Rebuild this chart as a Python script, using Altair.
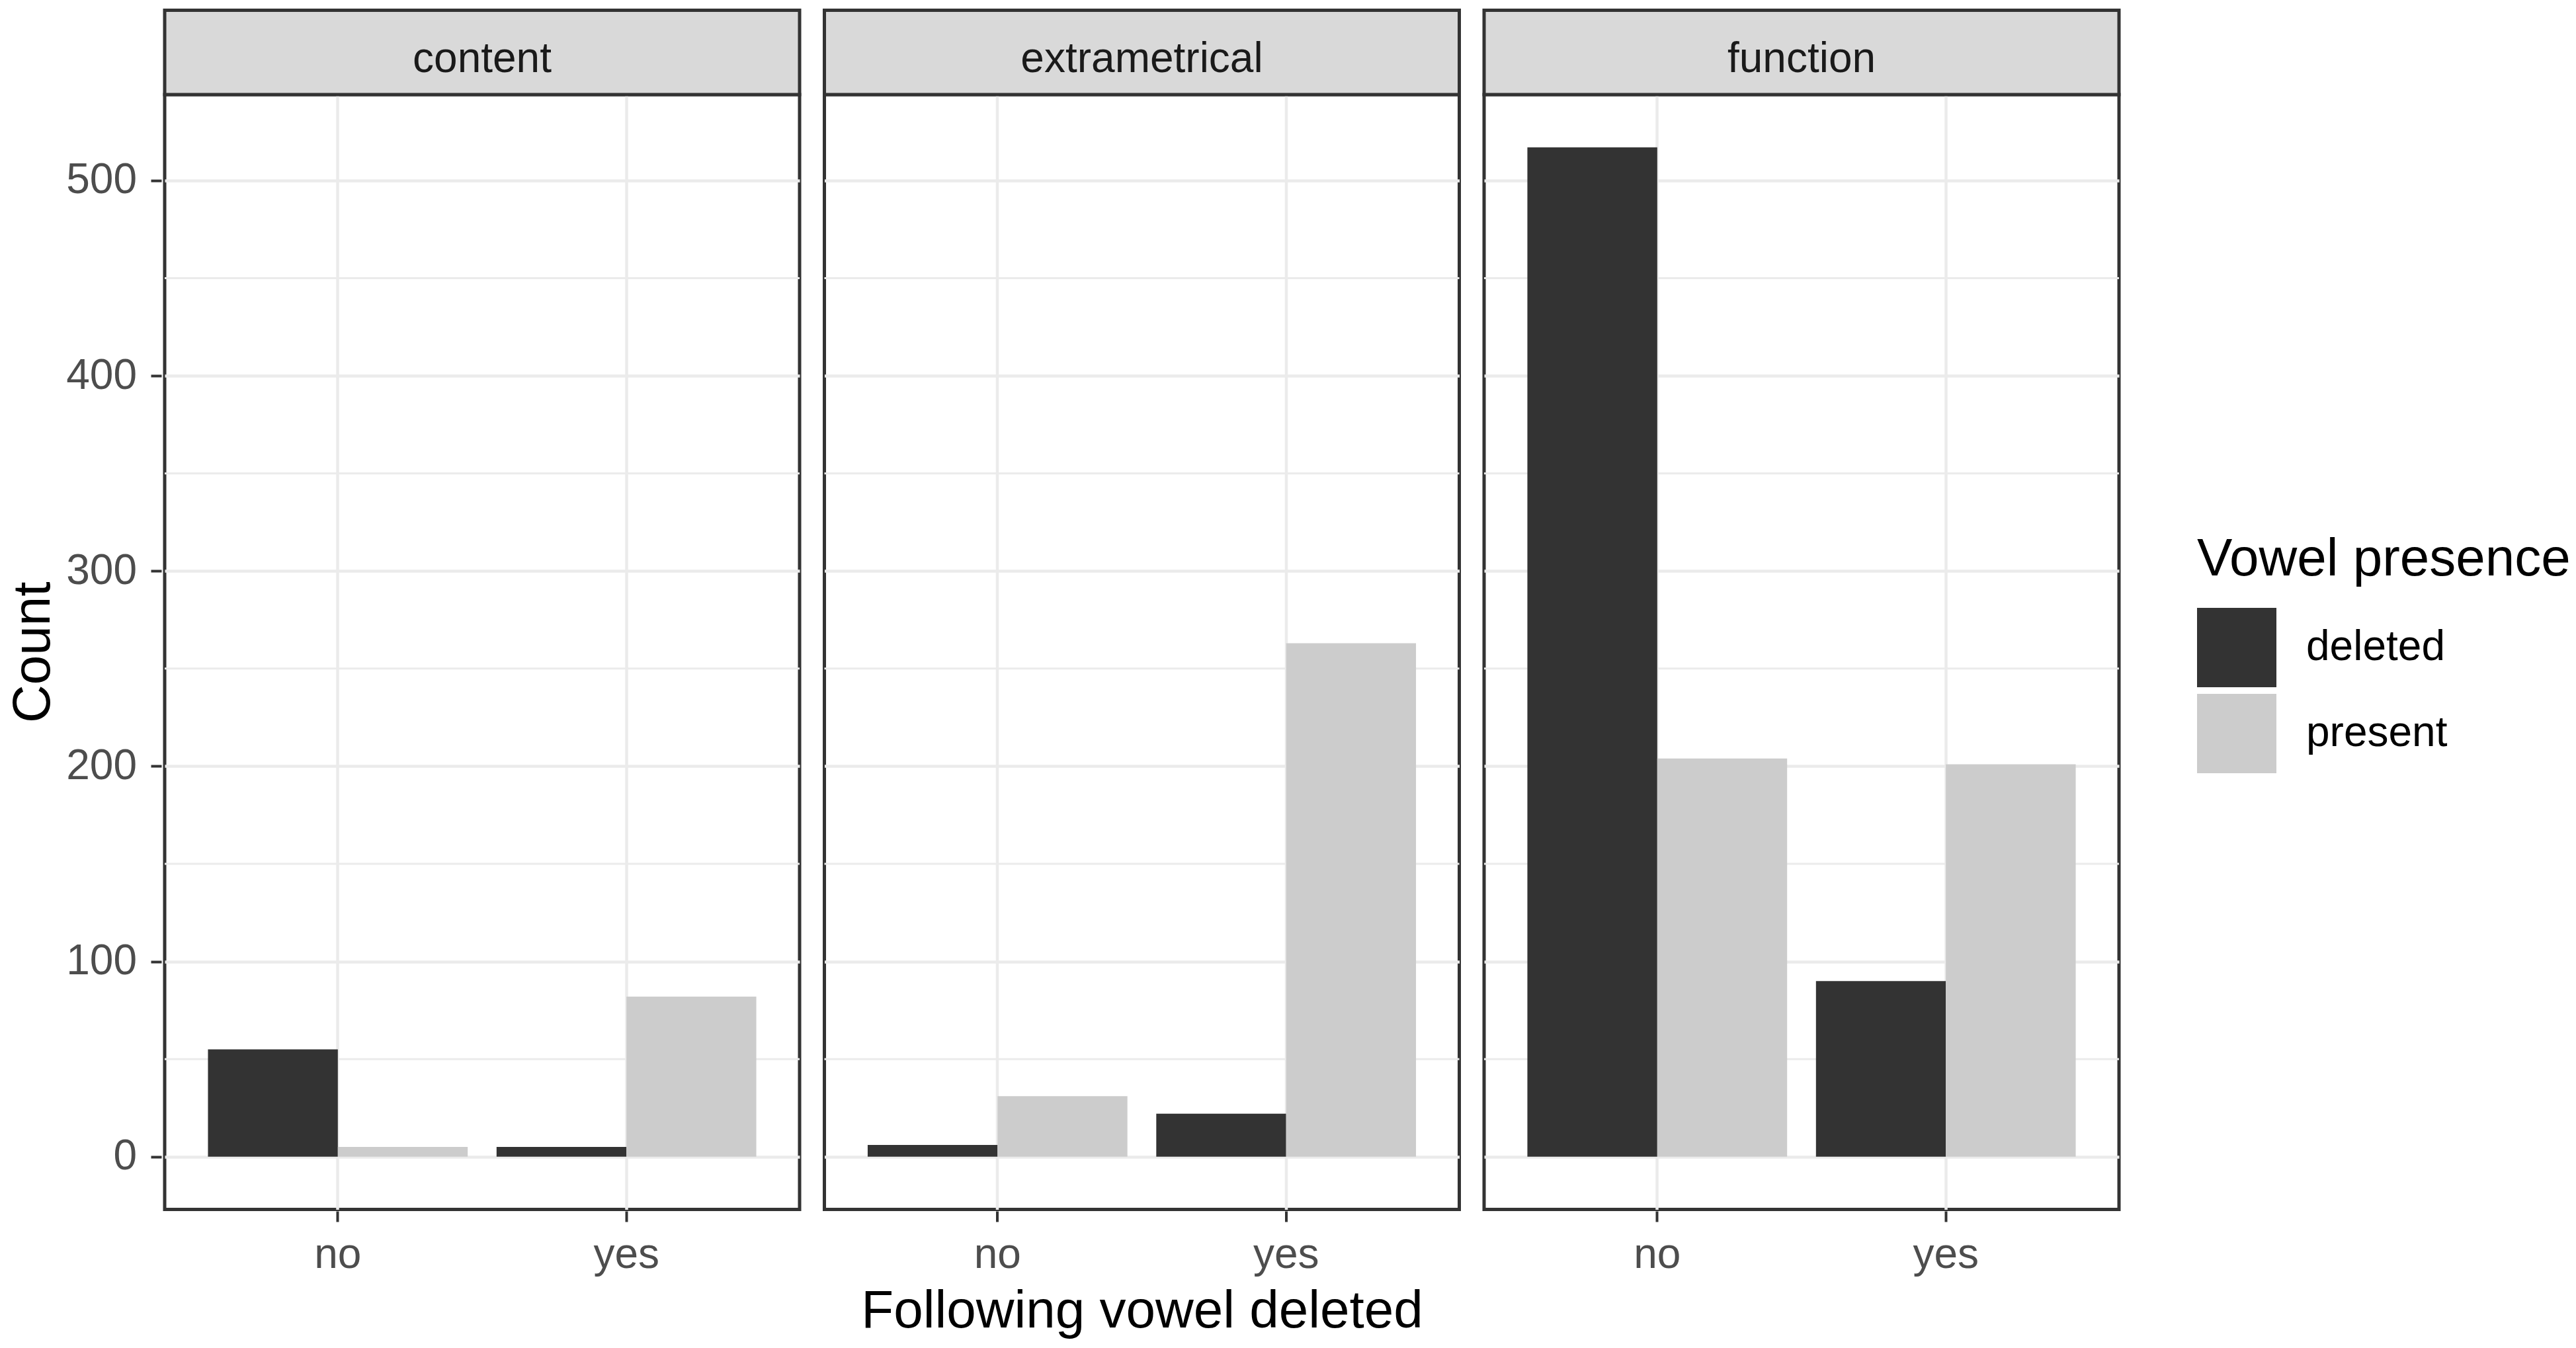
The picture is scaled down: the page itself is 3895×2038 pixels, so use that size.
import altair as alt
import pandas as pd

# ---- data ----
categories = ["content", "extrametrical", "function"]
followed_levels = ["no", "yes"]
presence_levels = ["deleted", "present"]
deleted_no = [55, 6, 517]
deleted_yes = [5, 22, 90]
present_no = [5, 31, 204]
present_yes = [82, 263, 201]
major_ticks = [0, 100, 200, 300, 400, 500]
minor_ticks = [50, 150, 250, 350, 450]
y_domain = [-27, 544]
bar_colors = ["#333333", "#CCCCCC"]

rows = []
for i, cat in enumerate(categories):
    pairs = (("no", deleted_no[i], present_no[i]), ("yes", deleted_yes[i], present_yes[i]))
    for f, d, p in pairs:
        rows.append(dict(category=cat, kind="bar", followed=f, presence="deleted", count=d))
        rows.append(dict(category=cat, kind="bar", followed=f, presence="present", count=p))
    for m in minor_ticks:
        rows.append(dict(category=cat, kind="minor", followed=None, presence=None, count=m))
    rows.append(dict(category=cat, kind="strip", followed=None, presence=None, count=None))
df = pd.DataFrame(rows)

FONT = "Liberation Sans"
W = 960
H = 1685.5
STRIP = 127.5

yenc = alt.Y(
    "count:Q",
    scale=alt.Scale(domain=y_domain, nice=False, zero=False),
    axis=alt.Axis(values=major_ticks, title="Count", grid=True),
)

bars = (
    alt.Chart()
    .transform_filter(alt.datum.kind == "bar")
    .mark_bar()
    .encode(
        x=alt.X(
            "followed:N",
            sort=followed_levels,
            scale=alt.Scale(paddingInner=0.1, paddingOuter=0.15),
            axis=alt.Axis(title=None, grid=True, labelAngle=0),
        ),
        xOffset=alt.XOffset("presence:N", sort=presence_levels),
        y=yenc,
        color=alt.Color(
            "presence:N",
            scale=alt.Scale(domain=presence_levels, range=bar_colors),
            legend=alt.Legend(
                title="Vowel presence",
                orient="none",
                legendX=3073,
                legendY=664,
                titleFontSize=80,
                titleFont=FONT,
                titleFontWeight="normal",
                titleColor="black",
                titleLimit=2000,
                labelFontSize=64,
                labelFont=FONT,
                labelColor="black",
                labelLimit=2000,
                symbolType="square",
                symbolSize=14400,
                symbolStrokeWidth=0,
                symbolOpacity=1,
                rowPadding=10,
                labelOffset=45,
                titlePadding=32,
                padding=0,
            ),
        ),
    )
)

minor = (
    alt.Chart()
    .transform_filter(alt.datum.kind == "minor")
    .mark_rule(color="#EBEBEB", strokeWidth=3)
    .encode(y=yenc)
)

strip_bg = (
    alt.Chart()
    .transform_filter(alt.datum.kind == "strip")
    .mark_rect(fill="#D9D9D9", stroke="#333333", strokeWidth=5)
    .encode(x=alt.value(0), x2=alt.value(W), y=alt.value(-STRIP), y2=alt.value(0))
)

strip_txt = (
    alt.Chart()
    .transform_filter(alt.datum.kind == "strip")
    .mark_text(font=FONT, fontSize=64, color="#1A1A1A", baseline="alphabetic", align="center")
    .encode(text="category:N", x=alt.value(W / 2), y=alt.value(-34))
)

layered = alt.layer(strip_bg, strip_txt, minor, bars).properties(width=W, height=H)

chart = (
    layered.facet(
        data=df,
        column=alt.Column(
            "category:N",
            sort=categories,
            header=alt.Header(
                labels=False,
                title="Following vowel deleted",
                titleOrient="bottom",
                titleFont=FONT,
                titleFontSize=80,
                titleColor="black",
                titleFontWeight="normal",
                titlePadding=5,
            ),
        ),
        spacing=27.5,
    )
    .properties(padding={"left": 10, "top": 10, "right": 0, "bottom": 5}, background="white")
    .configure_view(stroke="#333333", strokeWidth=5)
    .configure_axis(
        labelFont=FONT,
        titleFont=FONT,
        labelFontSize=64,
        labelColor="#4D4D4D",
        titleFontSize=80,
        titleColor="black",
        titleFontWeight="normal",
        tickColor="#333333",
        tickWidth=4,
        tickSize=16,
        gridColor="#EBEBEB",
        gridWidth=4.5,
        domain=False,
    )
    .configure_axisX(labelPadding=18)
    .configure_axisY(labelPadding=21.5, titlePadding=8)
)

chart.save("out.html", embed_options={"renderer": "svg", "actions": False})
